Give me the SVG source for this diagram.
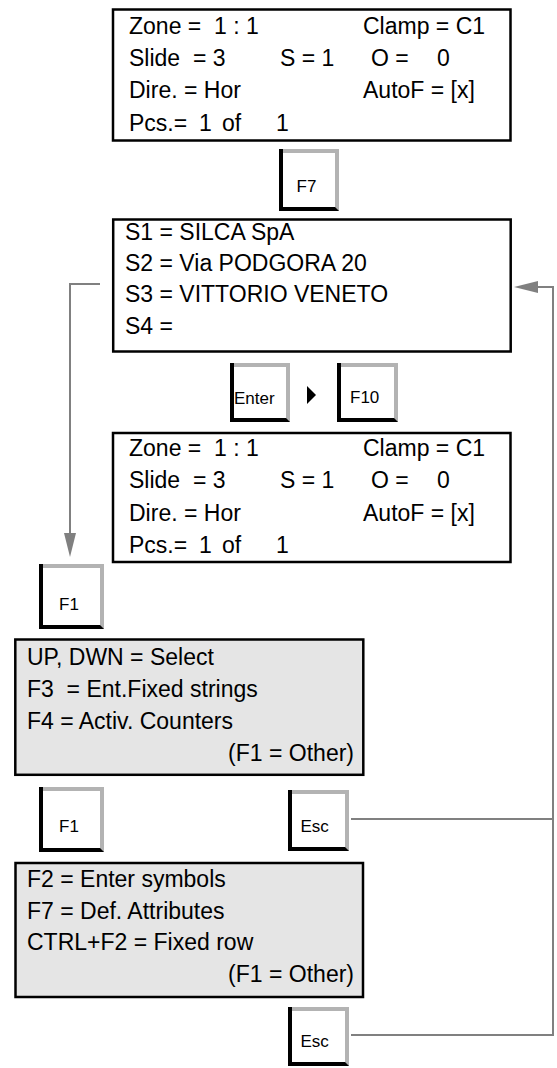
<svg xmlns="http://www.w3.org/2000/svg" width="557" height="1068" viewBox="0 0 557 1068" xml:space="preserve">
<style>
text{font-family:"Liberation Sans",Arial,Helvetica,sans-serif;fill:#000;white-space:pre}
.t{font-size:23px}
.k{font-size:17px}
.box{fill:#fff;stroke:#000;stroke-width:2.5}
.gbox{fill:#e5e5e5;stroke:#000;stroke-width:2.5}
.kg{fill:#b3b3b3}
.kb{fill:#000}
.kw{fill:#fff}
.conn{fill:none;stroke:#808080;stroke-width:2}
</style>
<defs>
<marker id="arr" markerUnits="userSpaceOnUse" markerWidth="24" markerHeight="12" refX="14" refY="6" orient="auto"><path d="M0,0 L24,6 L0,12 z" fill="#808080"/></marker>
</defs>
<rect width="557" height="1068" fill="#fff"/>

<g id="connectors">
<path class="conn" d="M100,284 H70 V547" marker-end="url(#arr)"/>
<path class="conn" d="M351,819 H553"/>
<path class="conn" d="M351,1035 H553 V287 H524" marker-end="url(#arr)"/>
<polygon points="307,386 316,395 307,404" fill="#000"/>
</g>

<g id="screen1">
<rect class="box" x="113" y="9.5" width="397.5" height="131"/>
<text class="t" y="33.5"><tspan x="129">Zone =  1 : 1</tspan><tspan x="363">Clamp = C1</tspan></text>
<text class="t" y="66"><tspan x="129">Slide  = 3</tspan><tspan x="280">S = 1</tspan><tspan x="371">O =</tspan><tspan x="437">0</tspan></text>
<text class="t" y="98"><tspan x="129">Dire. = Hor</tspan><tspan x="363">AutoF = [x]</tspan></text>
<text class="t" y="130.5"><tspan x="129">Pcs.=</tspan><tspan x="199">1</tspan><tspan x="222">of</tspan><tspan x="276">1</tspan></text>
</g>

<g id="key-f7">
<rect class="kg" x="279" y="149" width="60" height="62"/>
<polygon class="kb" points="279,149 283,149 283,207 335,207 339,211 279,211"/>
<rect class="kw" x="283" y="153" width="52" height="54"/>
<text class="k" x="296.5" y="192">F7</text>
</g>

<g id="screen2">
<rect class="box" x="113.2" y="219.5" width="397.5" height="132"/>
<text class="t" x="125" y="240">S1 = SILCA SpA</text>
<text class="t" x="125" y="271">S2 = Via PODGORA 20</text>
<text class="t" x="125" y="302">S3 = VITTORIO VENETO</text>
<text class="t" x="125" y="333.5">S4 =</text>
</g>

<g id="key-enter">
<rect class="kg" x="230" y="363" width="60" height="59"/>
<polygon class="kb" points="230,363 234,363 234,418 286,418 290,422 230,422"/>
<rect class="kw" x="234" y="367" width="52" height="51"/>
<text class="k" x="234" y="404">Enter</text>
</g>

<g id="key-f10">
<rect class="kg" x="337" y="363" width="61" height="59"/>
<polygon class="kb" points="337,363 341,363 341,418 394,418 398,422 337,422"/>
<rect class="kw" x="341" y="367" width="53" height="51"/>
<text class="k" x="350" y="403">F10</text>
</g>

<g id="screen3">
<rect class="box" x="113" y="433" width="397.5" height="129"/>
<text class="t" y="455.5"><tspan x="129">Zone =  1 : 1</tspan><tspan x="363">Clamp = C1</tspan></text>
<text class="t" y="488"><tspan x="129">Slide  = 3</tspan><tspan x="280">S = 1</tspan><tspan x="371">O =</tspan><tspan x="437">0</tspan></text>
<text class="t" y="520.5"><tspan x="129">Dire. = Hor</tspan><tspan x="363">AutoF = [x]</tspan></text>
<text class="t" y="552.5"><tspan x="129">Pcs.=</tspan><tspan x="199">1</tspan><tspan x="222">of</tspan><tspan x="276">1</tspan></text>
</g>

<g id="key-f1-a">
<rect class="kg" x="39" y="564" width="65" height="65"/>
<polygon class="kb" points="39,564 43,564 43,625 100,625 104,629 39,629"/>
<rect class="kw" x="43" y="568" width="57" height="57"/>
<text class="k" x="59" y="610">F1</text>
</g>

<g id="menu1">
<rect class="gbox" x="15.3" y="639.5" width="348" height="135.3"/>
<text class="t" x="27" y="665">UP, DWN = Select</text>
<text class="t" x="27" y="697">F3  = Ent.Fixed strings</text>
<text class="t" x="27" y="729">F4 = Activ. Counters</text>
<text class="t" x="354" y="761" text-anchor="end">(F1 = Other)</text>
</g>

<g id="key-f1-b">
<rect class="kg" x="39" y="787" width="65" height="65"/>
<polygon class="kb" points="39,787 43,787 43,848 100,848 104,852 39,852"/>
<rect class="kw" x="43" y="791" width="57" height="57"/>
<text class="k" x="59" y="832">F1</text>
</g>

<g id="key-esc-a">
<rect class="kg" x="288" y="790" width="61" height="61"/>
<polygon class="kb" points="288,790 292,790 292,847 345,847 349,851 288,851"/>
<rect class="kw" x="292" y="794" width="53" height="53"/>
<text class="k" x="300.5" y="832">Esc</text>
</g>

<g id="menu2">
<rect class="gbox" x="15.5" y="863" width="347.5" height="134"/>
<text class="t" x="27" y="887">F2 = Enter symbols</text>
<text class="t" x="27" y="918.5">F7 = Def. Attributes</text>
<text class="t" x="27" y="950">CTRL+F2 = Fixed row</text>
<text class="t" x="354" y="982" text-anchor="end">(F1 = Other)</text>
</g>

<g id="key-esc-b">
<rect class="kg" x="288" y="1007" width="61" height="59"/>
<polygon class="kb" points="288,1007 292,1007 292,1062 345,1062 349,1066 288,1066"/>
<rect class="kw" x="292" y="1011" width="53" height="51"/>
<text class="k" x="300.5" y="1047">Esc</text>
</g>
</svg>
